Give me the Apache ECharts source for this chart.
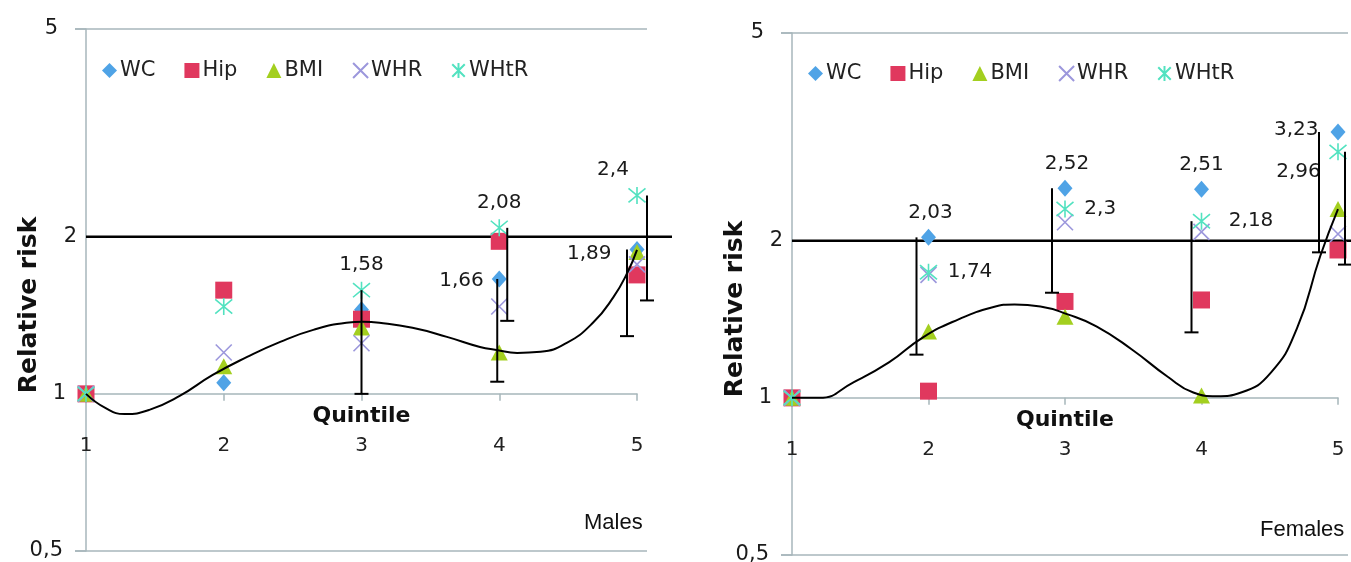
<!DOCTYPE html>
<html><head><meta charset="utf-8">
<script src="https://cdn.jsdelivr.net/npm/echarts@6/dist/echarts.min.js"></script>
<style>html,body{margin:0;padding:0;background:#fff}#c{width:1351px;height:562px}</style>
</head><body><div id="c"></div>
<script>
// ---------- data ----------
const quintiles = [1, 2, 3, 4, 5];
const seriesNames = ['WC', 'Hip', 'BMI', 'WHR', 'WHtR'];
const yTickValues = [0.5, 1, 2, 5];
const panelTitles = ['Males', 'Females'];

// Males relative risk per quintile
const malesWC   = [1, 1.05, 1.45, 1.66, 1.89];
const malesHip  = [1, 1.58, 1.39, 1.96, 1.69];
const malesBMI  = [1, 1.13, 1.34, 1.20, 1.87];
const malesWHR  = [1, 1.20, 1.25, 1.47, 1.77];
const malesWHtR = [1, 1.47, 1.58, 2.08, 2.40];

// Females relative risk per quintile
const femalesWC   = [1, 2.03, 2.52, 2.51, 3.23];
const femalesHip  = [1, 1.03, 1.53, 1.54, 1.92];
const femalesBMI  = [1, 1.34, 1.43, 1.01, 2.30];
const femalesWHR  = [1, 1.72, 2.17, 2.08, 2.06];
const femalesWHtR = [1, 1.74, 2.30, 2.18, 2.96];

// Trend curve: [quintile position, relative risk]
const malesCurve = [[1,1.0],[1.14,0.94],[1.28,0.915],[1.46,0.932],[1.68,0.991],[1.92,1.087],[2.17,1.177],[2.41,1.258],[2.65,1.326],[2.89,1.368],[3.01,1.374],[3.13,1.368],[3.37,1.338],[3.62,1.286],[3.86,1.23],[3.98,1.214],[4.13,1.198],[4.3,1.204],[4.49,1.252],[4.68,1.368],[4.83,1.534],[4.93,1.706],[5,1.887]];
const femalesCurve = [[1,1.0],[1.2,1.0],[1.45,1.071],[1.71,1.169],[1.96,1.306],[2.22,1.414],[2.47,1.491],[2.63,1.51],[2.82,1.497],[3.02,1.445],[3.23,1.371],[3.49,1.238],[3.75,1.099],[3.94,1.024],[4.11,1.007],[4.29,1.024],[4.51,1.119],[4.70,1.36],[4.87,1.87],[5,2.3]];

// Error bars: [quintile, upper (point), lower limit]
const malesErr   = [[3, 1.58, 1.00], [4, 1.66, 1.055], [4, 2.08, 1.38], [5, 1.89, 1.29], [5, 2.40, 1.51]];
const femalesErr = [[2, 2.03, 1.21], [3, 2.52, 1.59], [4, 2.18, 1.335], [5, 3.23, 1.90], [5, 2.96, 1.80]];

// Labelled points: [series, quintile]
const malesLabels   = [['WHtR', 3], ['WHtR', 4], ['WC', 4], ['WHtR', 5], ['WC', 5]];
const femalesLabels = [['WC', 2], ['WHtR', 2], ['WC', 3], ['WHtR', 3], ['WC', 4], ['WHtR', 4], ['WC', 5], ['WHtR', 5]];

// ---------- styles / layout ----------
const colors = { WC: '#4fa3e6', Hip: '#e0385e', BMI: '#a3cf1f', WHR: '#9c97dc', WHtR: '#52e2c0' };
const symbols = {
  WC: 'diamond', Hip: 'rect', BMI: 'triangle',
  WHR: 'path://M0,0L10,10M10,0L0,10',
  WHtR: 'path://M0,0L10,10M10,0L0,10M5,-1L5,11'
};
const symbolSizes = { WC: [15, 17], Hip: 17, BMI: [17, 16], WHR: 16, WHtR: 17 };
const gray = '#a7b6bb';
const FONT = 'DejaVu Sans';
const grids = [
  { left: 86, top: 29, width: 551, height: 522, outerBoundsMode: 'none', containLabel: false },
  { left: 792, top: 33, width: 546, height: 522, outerBoundsMode: 'none', containLabel: false }
];
const errDx = [[0, -2, 8, -10, 10], [-12, -13, -10, -19, 7]];
const labelPos = [
  [['top', [0, 0]], ['top', [0, 0]], ['left', [-2, 2]], ['top', [-24, 0]], ['left', [-12, 4]]],
  [['top', [2, 0]], ['right', [4, 0]], ['top', [2, 0]], ['right', [4, 0]], ['top', [0, 0]], ['right', [12, 0]], ['left', [-6, -2]], ['left', [-2, 20]]]
];
const refExt = [{ right: 35 }, { right: 13 }];
const yLabelPad = { '5': 19, '2': 0, '1': 11, '0,5': 14 };

const L = v => Math.log10(v);
const fmt = v => String(v).replace('.', ',');
const yMin = L(yTickValues[0]), yMax = L(yTickValues[yTickValues.length - 1]);

const panelData = [
  { vals: { WC: malesWC, Hip: malesHip, BMI: malesBMI, WHR: malesWHR, WHtR: malesWHtR }, curve: malesCurve, err: malesErr, labels: malesLabels },
  { vals: { WC: femalesWC, Hip: femalesHip, BMI: femalesBMI, WHR: femalesWHR, WHtR: femalesWHtR }, curve: femalesCurve, err: femalesErr, labels: femalesLabels }
];

const xAxes = [], yAxes = [], series = [], legends = [], titles = [];

panelData.forEach((pd, p) => {
  // x axis crosses the y axis at RR = 1
  const crossOffset = -grids[p].height * (L(1) - yMin) / (yMax - yMin);
  xAxes.push({
    type: 'value', gridIndex: p, min: 1, max: 5, interval: 1,
    offset: crossOffset,
    name: 'Quintile', nameLocation: 'middle', nameGap: 11, nameMoveOverlap: false,
    nameTextStyle: { fontFamily: FONT, fontWeight: 'bold', fontSize: 22, color: '#111' },
    axisLine: { onZero: false, lineStyle: { color: gray, width: 1.5 } },
    axisTick: { show: true, length: 7, lineStyle: { color: gray, width: 1.5 } },
    axisLabel: { margin: 42, fontFamily: FONT, fontSize: 20, color: '#222' },
    splitLine: { show: false }
  });
  yAxes.push({
    type: 'value', gridIndex: p, min: yMin, max: yMax,
    name: 'Relative risk', nameLocation: 'middle', nameGap: 44, nameRotate: 90, nameMoveOverlap: false,
    nameTextStyle: { fontFamily: FONT, fontWeight: 'bold', fontSize: 25, color: '#111', padding: [0, 30, 0, 0] },
    axisLine: { show: true, onZero: false, lineStyle: { color: gray, width: 1.5 } },
    axisTick: { show: true, length: 11, customValues: [yMin, yMax], lineStyle: { color: gray, width: 1.5 } },
    axisLabel: {
      customValues: yTickValues.map(L), margin: 9, fontFamily: FONT, fontSize: 21, color: '#1a1a1a',
      formatter: v => {
        const s = fmt(Math.round(Math.pow(10, v) * 10) / 10);
        return '{p' + (yLabelPad[s] || 0) + '|' + s + '}';
      },
      rich: Object.fromEntries(Object.values(yLabelPad).map(n => ['p' + n, { padding: [0, n, 0, 0], fontFamily: FONT, fontSize: 21, color: '#1a1a1a' }]))
    },
    splitLine: { show: false }
  });

  // reference lines at 5 and 0.5 (gray) and 2 (black)
  series.push({
    type: 'custom', xAxisIndex: p, yAxisIndex: p, silent: true, z: 1, clip: false,
    data: [[1, yMax, 0], [1, yMin, 0], [1, L(2), 1]],
    renderItem: (params, api) => {
      const y = api.value(1), black = api.value(2) === 1;
      const a = api.coord([1, y]), b = api.coord([5, y]);
      const x1 = black ? a[0] : a[0] - 11;
      const x2 = black ? b[0] + refExt[p].right : b[0] + 10;
      return { type: 'line', shape: { x1, y1: a[1], x2, y2: a[1] },
        style: { stroke: black ? '#000' : gray, lineWidth: black ? 2.5 : 1.5 } };
    }
  });

  seriesNames.forEach(name => {
    const vals = pd.vals[name];
    const isLine = name === 'WHR' || name === 'WHtR';
    series.push({
      type: 'scatter', name, xAxisIndex: p, yAxisIndex: p, z: 3,
      symbol: symbols[name], symbolSize: symbolSizes[name],
      itemStyle: isLine ? { color: 'rgba(0,0,0,0)', borderColor: colors[name], borderWidth: 1.6, opacity: 1 }
                        : { color: colors[name], opacity: 1 },
      data: quintiles.map((q, i) => {
        const li = pd.labels.findIndex(l => l[0] === name && l[1] === q);
        const item = { value: [q, L(vals[i])] };
        if (li >= 0) {
          const [pos, off] = labelPos[p][li];
          item.label = { show: true, position: pos, offset: off, distance: 6,
            formatter: fmt(vals[i]), fontFamily: FONT, fontSize: 20, color: '#1a1a1a' };
        }
        return item;
      })
    });
  });

  // trend curve
  series.push({
    type: 'line', name: 'trend' + p, xAxisIndex: p, yAxisIndex: p, z: 4,
    smooth: 0.5, showSymbol: false, symbol: 'none', silent: true,
    lineStyle: { color: '#000', width: 2 },
    data: pd.curve.map(d => [d[0], L(d[1])])
  });

  // error bars
  series.push({
    type: 'custom', name: 'err' + p, xAxisIndex: p, yAxisIndex: p, z: 5, silent: true, clip: false,
    data: pd.err.map((e, i) => [e[0], L(e[1]), L(e[2]), i]),
    renderItem: (params, api) => {
      const q = api.value(0), hi = api.value(1), lo = api.value(2), idx = api.value(3);
      const dx = errDx[p][idx];
      const a = api.coord([q, hi]), b = api.coord([q, lo]);
      const x = a[0] + dx;
      return { type: 'group', children: [
        { type: 'line', shape: { x1: x, y1: a[1], x2: x, y2: b[1] }, style: { stroke: '#000', lineWidth: 2 } },
        { type: 'line', shape: { x1: x - 7, y1: b[1], x2: x + 7, y2: b[1] }, style: { stroke: '#000', lineWidth: 2 } }
      ]};
    }
  });

  legends.push({
    data: seriesNames, left: grids[p].left + 11, top: 55 + (p ? 3 : 0),
    itemGap: 29, itemWidth: 15, itemHeight: 15, selectedMode: false,
    textStyle: { fontFamily: FONT, fontSize: 21, color: '#222', padding: [0, 0, 0, -2] }
  });
});

titles.push({ text: panelTitles[0], left: 579, top: 507, textStyle: { fontFamily: 'Liberation Sans', fontSize: 22, fontWeight: 'normal', color: '#111' } });
titles.push({ text: panelTitles[1], left: 1255, top: 514, textStyle: { fontFamily: 'Liberation Sans', fontSize: 22, fontWeight: 'normal', color: '#111' } });

const chart = echarts.init(document.getElementById('c'));
chart.setOption({
  animation: false,
  backgroundColor: '#fff',
  title: titles,
  grid: grids,
  xAxis: xAxes,
  yAxis: yAxes,
  legend: legends,
  series
});
</script></body></html>
